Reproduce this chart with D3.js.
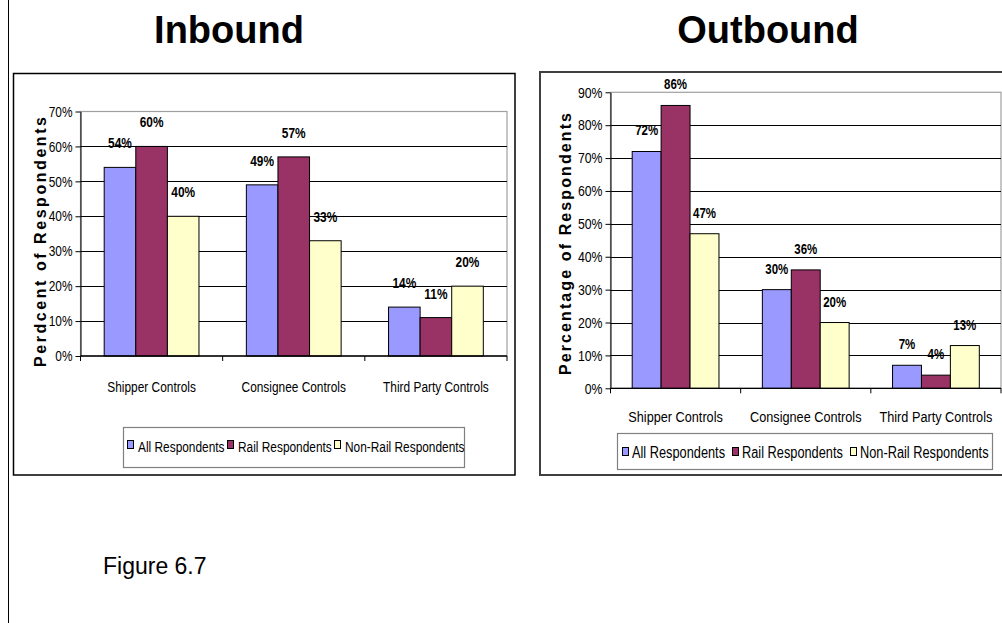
<!DOCTYPE html>
<html>
<head>
<meta charset="utf-8">
<script src="https://cdn.jsdelivr.net/npm/d3@7"></script>
<style>
  body { margin: 0; background: #fff; }
  svg { display: block; }
  .narrow { font-family: "Liberation Sans", Arial, sans-serif; }
</style>
</head>
<body>
<div id="chart"></div>
<script>
// data
const categories = ["Shipper Controls", "Consignee Controls", "Third Party Controls"];
const seriesNames = ["All Respondents", "Rail Respondents", "Non-Rail Respondents"];
const seriesColors = ["#9999FF", "#993366", "#FFFFCC"];

// inbound (percent)
const inboundAll = [54, 49, 14];
const inboundRail = [60, 57, 11];
const inboundNonRail = [40, 33, 20];
const inboundTicks = [0, 10, 20, 30, 40, 50, 60, 70];

// outbound (percent)
const outboundAll = [72, 30, 7];
const outboundRail = [86, 36, 4];
const outboundNonRail = [47, 20, 13];
const outboundTicks = [0, 10, 20, 30, 40, 50, 60, 70, 80, 90];

const W = 1002, H = 623;
const NARROW = 0.82; // no Arial Narrow installed, squeeze the glyphs instead

const svg = d3.select("#chart")
    .append("svg")
    .attr("width", W)
    .attr("height", H);

// page margin line on the left
svg.append("line")
    .attr("x1", 8.5).attr("x2", 8.5)
    .attr("y1", 0).attr("y2", H)
    .attr("stroke", "#000").attr("stroke-width", 1);

// big titles
svg.append("text")
    .attr("x", 229).attr("y", 43)
    .attr("text-anchor", "middle")
    .style("font-family", "Liberation Sans, Arial, sans-serif")
    .style("font-weight", "bold")
    .style("font-size", "38px")
    .text("Inbound");

svg.append("text")
    .attr("x", 768).attr("y", 43)
    .attr("text-anchor", "middle")
    .style("font-family", "Liberation Sans, Arial, sans-serif")
    .style("font-weight", "bold")
    .style("font-size", "38px")
    .text("Outbound");

svg.append("text")
    .attr("x", 103).attr("y", 574)
    .style("font-family", "Liberation Sans, Arial, sans-serif")
    .style("font-size", "23px")
    .text("Figure 6.7");

function drawChart(opt) {
    const values = opt.values; // one array per series
    const g = svg.append("g");

    // chart frame
    g.append("rect")
        .attr("x", opt.box[0]).attr("y", opt.box[1])
        .attr("width", opt.box[2] - opt.box[0])
        .attr("height", opt.box[3] - opt.box[1])
        .attr("fill", "#fff")
        .attr("stroke", opt.boxStroke)
        .attr("stroke-width", opt.boxWidth);

    const y = d3.scaleLinear()
        .domain([0, d3.max(opt.ticks)])
        .range([opt.plot.y0, opt.plot.y1]);

    const x = d3.scaleBand()
        .domain(categories)
        .range([opt.plot.x0, opt.plot.x1]);

    // excel style gap width 150%
    const xs = d3.scaleBand()
        .domain(seriesNames)
        .range([0, x.bandwidth()])
        .paddingOuter(0.75);

    // plot area border (grey)
    g.append("rect")
        .attr("x", opt.plot.x0).attr("y", y(d3.max(opt.ticks)))
        .attr("width", opt.plot.x1 - opt.plot.x0)
        .attr("height", y(0) - y(d3.max(opt.ticks)))
        .attr("fill", "none")
        .attr("stroke", "#a0a0a0")
        .attr("stroke-width", 1.2);

    // gridlines
    g.selectAll(".grid")
        .data(opt.ticks.filter(t => t > 0 && t < d3.max(opt.ticks)))
        .enter()
        .append("line")
            .attr("class", "grid")
            .attr("x1", opt.plot.x0).attr("x2", opt.plot.x1)
            .attr("y1", d => Math.round(y(d)) + 0.5)
            .attr("y2", d => Math.round(y(d)) + 0.5)
            .attr("stroke", "#000")
            .attr("stroke-width", 1);

    // bars
    seriesNames.forEach(function (s, si) {
        g.selectAll(".bar" + si)
            .data(values[si])
            .enter()
            .append("rect")
                .attr("x", (d, i) => x(categories[i]) + xs(s))
                .attr("y", d => y(d))
                .attr("width", xs.bandwidth())
                .attr("height", d => y(0) - y(d))
                .attr("fill", seriesColors[si])
                .attr("stroke", "#000")
                .attr("stroke-width", 1);

        g.selectAll(".lab" + si)
            .data(values[si])
            .enter()
            .append("text")
                .attr("class", "narrow")
                .attr("x", (d, i) => x(categories[i]) + xs(s) + xs.bandwidth() / 2)
                .attr("y", d => y(d) - opt.labelOff)
                .attr("text-anchor", "middle")
                .style("font-weight", "bold")
                .style("font-size", opt.labelSize + "px")
                .text(d => d + "%");
    });

    // y axis
    const yAxis = g.append("g")
        .attr("transform", `translate(${opt.plot.x0}, 0)`)
        .call(d3.axisLeft(y).tickValues(opt.ticks).tickSize(5).tickSizeOuter(0).tickFormat(d => d + "%"));
    yAxis.attr("font-size", null).attr("font-family", null);
    yAxis.select(".domain").attr("stroke", "#000");
    yAxis.selectAll(".tick line").attr("stroke", "#000");
    yAxis.selectAll(".tick text")
        .attr("class", "narrow")
        .attr("fill", "#000")
        .style("font-size", opt.tickSize + "px");

    // x axis line and category boundary ticks
    g.append("line")
        .attr("x1", opt.plot.x0).attr("x2", opt.plot.x1)
        .attr("y1", y(0)).attr("y2", y(0))
        .attr("stroke", "#000").attr("stroke-width", 1.3);

    const bounds = categories.map(c => x(c)).concat([x(categories[categories.length - 1]) + x.bandwidth()]);
    g.selectAll(".xtick")
        .data(bounds)
        .enter()
        .append("line")
            .attr("x1", d => d).attr("x2", d => d)
            .attr("y1", y(0)).attr("y2", y(0) + 5)
            .attr("stroke", "#000");

    g.selectAll(".xlab")
        .data(categories)
        .enter()
        .append("text")
            .attr("class", "narrow")
            .attr("x", d => x(d) + x.bandwidth() / 2)
            .attr("y", opt.catY)
            .attr("text-anchor", "middle")
            .style("font-size", opt.catSize + "px")
            .text(d => d);

    // y axis title
    g.append("text")
        .attr("transform", `translate(${opt.yTitle.x}, ${opt.yTitle.y}) rotate(-90)`)
        .attr("text-anchor", "start")
        .attr("textLength", opt.yTitle.len)
        .attr("lengthAdjust", "spacing")
        .style("font-family", "Liberation Sans, Arial, sans-serif")
        .style("font-weight", "bold")
        .style("font-size", "16px")
        .text(opt.yTitle.text);

    // legend
    const lg = opt.legend;
    g.append("rect")
        .attr("x", lg.box[0] + 0.5).attr("y", lg.box[1] + 0.5)
        .attr("width", lg.box[2] - lg.box[0])
        .attr("height", lg.box[3] - lg.box[1])
        .attr("fill", "#fff")
        .attr("stroke", "#808080")
        .attr("stroke-width", 1.2);

    seriesNames.forEach(function (s, si) {
        g.append("rect")
            .attr("x", lg.items[si] + 0.5)
            .attr("y", lg.symY + 0.5)
            .attr("width", 6).attr("height", 8)
            .attr("fill", seriesColors[si])
            .attr("stroke", "#000")
            .attr("stroke-width", 1);
        g.append("text")
            .attr("class", "narrow")
            .attr("x", lg.items[si] + lg.textGap)
            .attr("y", lg.textY)
            .style("font-size", lg.size + "px")
            .text(s);
    });
}

drawChart({
    values: [inboundAll, inboundRail, inboundNonRail],
    ticks: inboundTicks,
    box: [13.5, 73.5, 515, 475],
    boxStroke: "#000",
    boxWidth: 1.5,
    plot: {x0: 80.5, x1: 507, y0: 356, y1: 111.5},
    labelOff: 19,
    labelSize: 14.5,
    tickSize: 14.5,
    catY: 392,
    catSize: 14.5,
    yTitle: {x: 46, y: 367, len: 250, text: "Perdcent of Respondents"},
    legend: {
        box: [123, 427, 464, 467],
        items: [127, 227, 334],
        symY: 440,
        textGap: 11,
        textY: 452,
        size: 14.5
    }
});

drawChart({
    values: [outboundAll, outboundRail, outboundNonRail],
    ticks: outboundTicks,
    box: [540, 72, 1012, 475],
    boxStroke: "#404040",
    boxWidth: 2,
    plot: {x0: 610.5, x1: 1001, y0: 388.3, y1: 92.3},
    labelOff: 16,
    labelSize: 14,
    tickSize: 15,
    catY: 422,
    catSize: 15.5,
    yTitle: {x: 571, y: 375, len: 262, text: "Percentage of Respondents"},
    legend: {
        box: [617, 433, 992, 469],
        items: [622, 732, 850],
        symY: 447,
        textGap: 10,
        textY: 458,
        size: 15.6
    }
});

// squeeze the "Arial Narrow" texts horizontally with a scale transform
svg.selectAll(".narrow").each(function () {
    const t = d3.select(this);
    const x0 = +t.attr("x") || 0;
    t.attr("x", x0 / NARROW)
        .attr("transform", `scale(${NARROW},1)`);
});
</script>
</body>
</html>
